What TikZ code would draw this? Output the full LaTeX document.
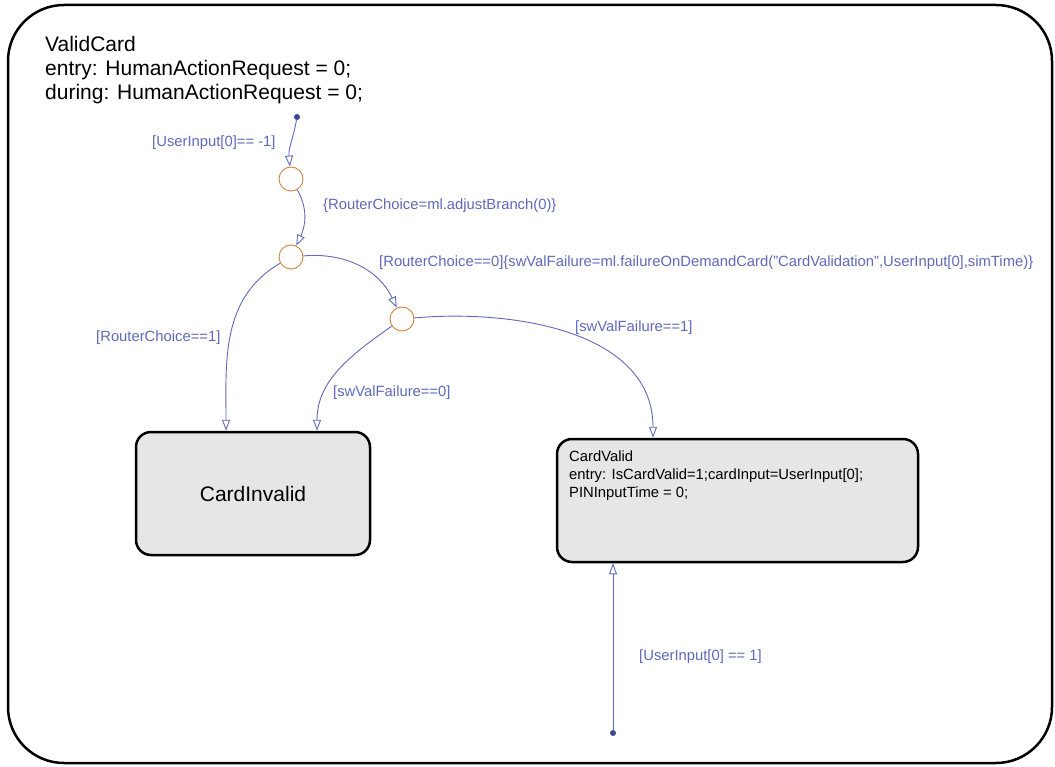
\documentclass[tikz,border=0pt]{standalone}
\usepackage{fontspec}
\setmainfont{Liberation Sans}
\usetikzlibrary{arrows.meta}

\definecolor{transblue}{RGB}{95,105,185}
\definecolor{dotblue}{RGB}{60,70,150}
\definecolor{juncorange}{RGB}{210,130,60}
\definecolor{stategray}{RGB}{230,230,230}

\begin{document}
\begin{tikzpicture}[
  x=1pt, y=-1pt,
  chart/.style={draw, line width=2.5pt, rounded corners=56pt, inner sep=0pt},
  state/.style={draw, line width=2.5pt, rounded corners=15pt, fill=stategray, inner sep=0pt},
  junc/.style={draw=juncorange, circle, line width=0.9pt, minimum size=24pt, inner sep=0pt},
  dflt/.style={fill=dotblue, circle, minimum size=6pt, inner sep=0pt},
  trans/.style={draw=transblue, line width=0.9pt, -{Triangle[open, length=11pt, width=8pt]}},
  big/.style={font=\fontsize{21}{24}\selectfont},
  small/.style={font=\fontsize{14.8}{18}\selectfont},
  cond/.style={small, text=transblue, inner sep=0pt, anchor=west}
]
\useasboundingbox (0,0) rectangle (1055,767);
% outer state
\node[chart, minimum width=1044pt, minimum height=758pt] (validcard) at (530,384) {};
\node[big, anchor=north west, align=left, inner sep=0pt] (vctitle) at (45,36)
  {ValidCard\\entry: HumanActionRequest = 0;\\during: HumanActionRequest = 0;};
% inner states
\node[state, big, minimum width=234pt, minimum height=123pt] (cardinvalid) at (253,493.5) {CardInvalid};
\node[state, minimum width=361pt, minimum height=123pt] (cardvalid) at (737.5,500.5) {};
\node[small, anchor=north west, align=left, inner sep=0pt] (cvtext) at (569,451)
  {CardValid\\entry: IsCardValid=1;cardInput=UserInput[0];\\PINInputTime = 0;};
% junctions and default transitions
\node[junc] (j1) at (291,179) {};
\node[junc] (j2) at (291,257) {};
\node[junc] (j3) at (402,319) {};
\node[dflt] (d1) at (297,117) {};
\node[dflt] (d2) at (613,733) {};
% transitions
\draw[trans] (d1) to[out=-100,in=95] (j1);
\draw[trans] (j1) to[out=-60,in=65] (j2);
\draw[trans] (j2) to[out=5,in=115] (j3);
\draw[trans] (j2) to[out=210,in=90] ([xshift=-27pt]cardinvalid.north);
\draw[trans] (j3) to[out=215,in=90] ([xshift=64pt]cardinvalid.north);
\draw[trans] (j3) to[out=5,in=90] ([xshift=-84.5pt]cardvalid.north);
\draw[trans] (d2) -- ([xshift=-124.5pt]cardvalid.south);
% conditions and actions
\node[cond] (lUser) at (152,143) {[UserInput[0]== -1]};
\node[cond] (lAdjust) at (323,206) {\{RouterChoice=ml.adjustBranch(0)\}};
\node[cond] (lChoice0) at (379,263) {[RouterChoice==0]\{swValFailure=ml.failureOnDemandCard("CardValidation",UserInput[0],simTime)\}};
\node[cond] (lChoice1) at (96,338) {[RouterChoice==1]};
\node[cond] (lFail0) at (333,393) {[swValFailure==0]};
\node[cond] (lFail1) at (575,328) {[swValFailure==1]};
\node[cond] (lUserOne) at (639,657) {[UserInput[0] == 1]};
\end{tikzpicture}
\end{document}
